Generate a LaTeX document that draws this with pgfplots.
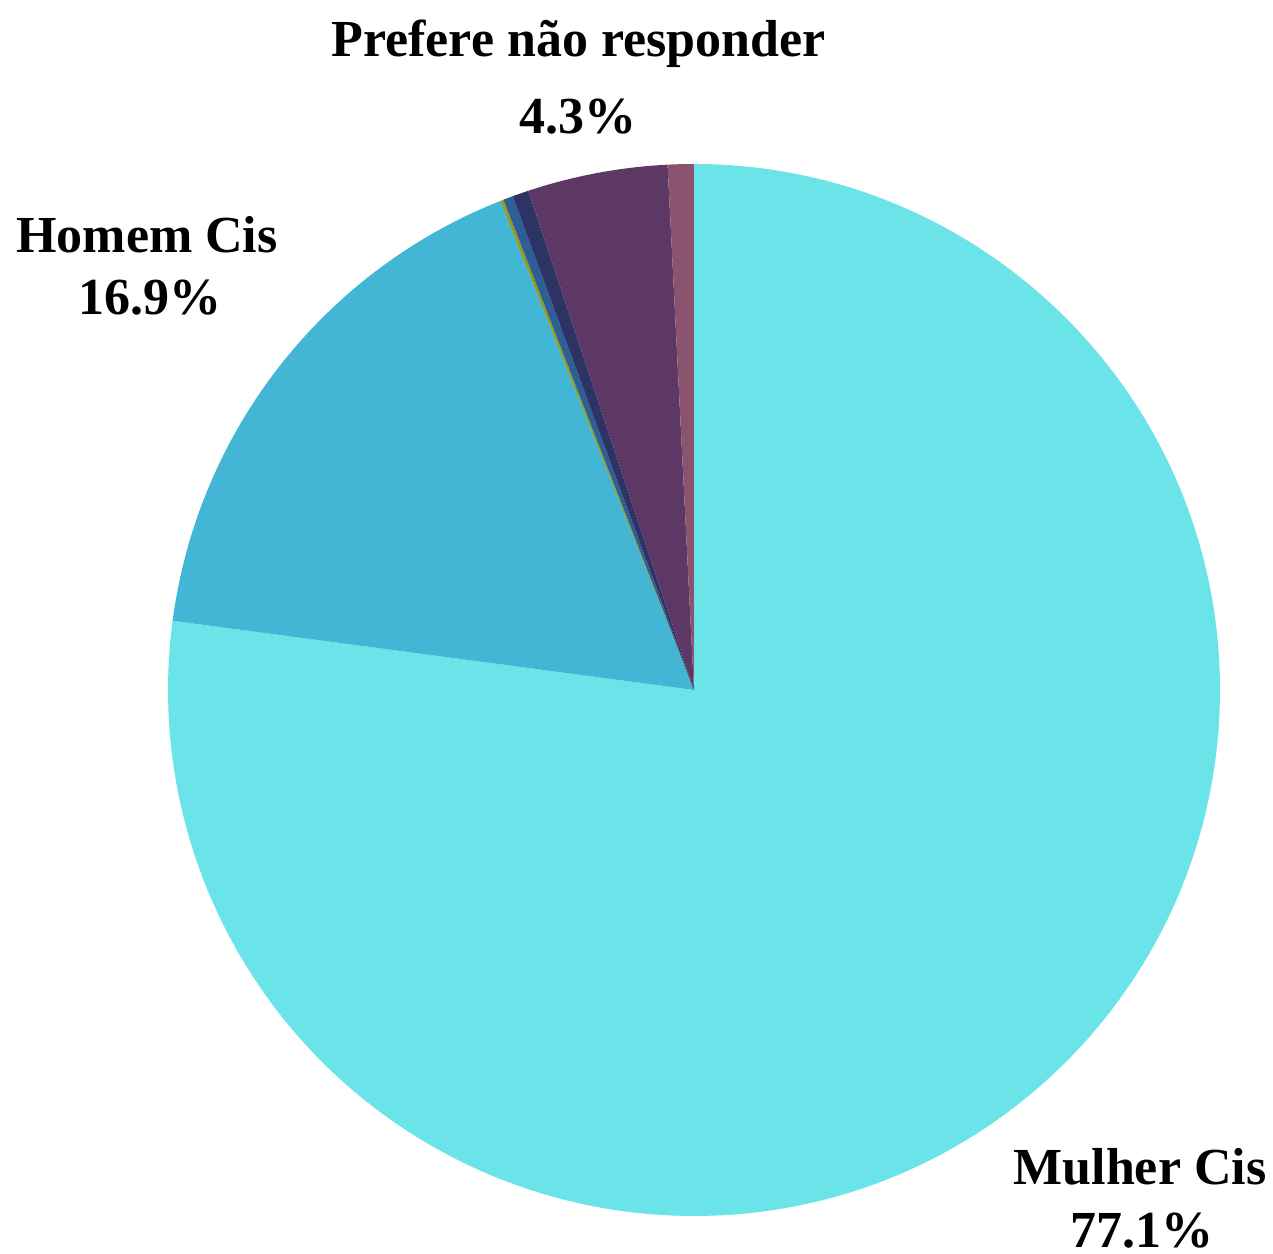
\documentclass[border=0pt]{standalone}
\usepackage{pgfplots}
\pgfplotsset{compat=1.18}
\usepackage{fontspec}
\setmainfont{Liberation Serif}
\definecolor{cMulher}{RGB}{106,228,232}
\definecolor{cHomem}{RGB}{66,182,212}
\definecolor{cYellow}{RGB}{150,155,30}
\definecolor{cBlue}{RGB}{44,95,150}
\definecolor{cNavy}{RGB}{46,51,102}
\definecolor{cPurple}{RGB}{94,56,100}
\definecolor{cMauve}{RGB}{138,84,112}
\begin{document}
\begin{tikzpicture}
\begin{axis}[hide axis, x=263pt, y=263pt, clip=false,
  xmin=-1.3194, xmax=1.1008, ymin=-1.0722, ymax=1.3118]
\gdef\startang{90}
\foreach \v/\c in {77.1/cMulher, 16.9/cHomem, 0.1/cYellow, 0.3/cBlue, 0.5/cNavy, 4.3/cPurple, 0.8/cMauve} {
  \pgfmathsetmacro{\endang}{\startang - \v*3.6}
  \edef\temp{\noexpand\fill[\c] (axis cs:0,0) -- ++(\startang:263pt) arc[start angle=\startang, end angle=\endang, radius=263pt] -- cycle;}
  \temp
  \xdef\startang{\endang}
}
\tikzset{lab/.style={anchor=base, font=\fontsize{26}{30}\selectfont\bfseries, inner sep=0pt}}
\node[lab] at (axis cs:-0.2196,1.2034) {Prefere não responder};
\node[lab] at (axis cs:-0.2196,1.0589) {4.3\%};
\node[lab] at (axis cs:-1.0399,0.8308) {Homem Cis};
\node[lab] at (axis cs:-1.0342,0.7129) {16.9\%};
\node[lab] at (axis cs:0.8479,-0.9411) {Mulher Cis};
\node[lab] at (axis cs:0.8517,-1.0600) {77.1\%};
\coordinate (bl) at (axis cs:-1.3194,-1.0722);
\coordinate (tr) at (axis cs:1.1008,1.3118);
\end{axis}
\pgfresetboundingbox
\path (bl) rectangle (tr);
\end{tikzpicture}
\end{document}
